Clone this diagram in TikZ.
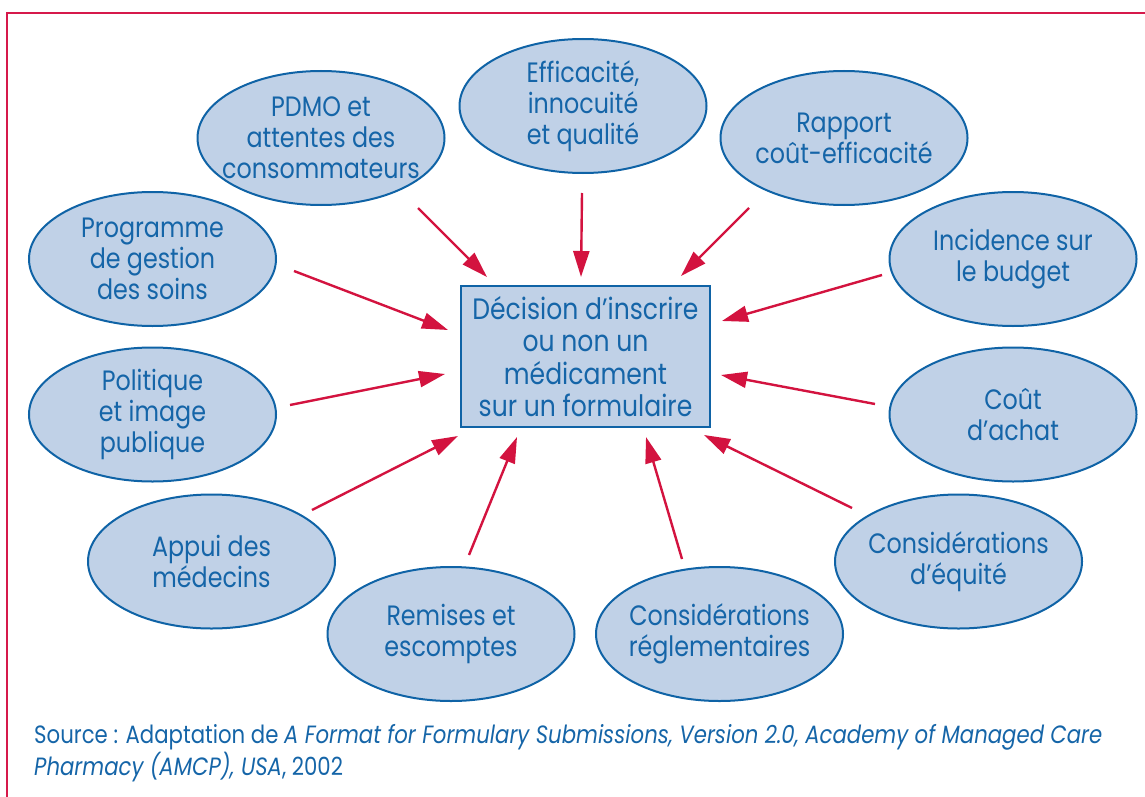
\documentclass[tikz,border=0pt]{standalone}
\usepackage{fontspec}
\setmainfont[FakeStretch=0.85]{Poppins}
\usetikzlibrary{shapes.geometric,arrows.meta,calc}
\definecolor{txtblue}{HTML}{1565A8}
\definecolor{fillblue}{HTML}{C0D1E7}
\definecolor{lineblue}{HTML}{0F63A6}
\definecolor{arrowred}{HTML}{D3133F}
\definecolor{framered}{HTML}{D6194B}

\begin{document}
\begin{tikzpicture}[x=1pt,y=-1pt,
  factor/.style={ellipse, draw=lineblue, fill=fillblue, line width=2pt,
    minimum width=247pt, minimum height=134pt, inner xsep=-40pt, inner ysep=-25pt,
    align=center, text=txtblue, font=\fontsize{28}{31}\selectfont},
  decision/.style={rectangle, draw=lineblue, fill=fillblue, line width=2pt,
    minimum width=249pt, minimum height=141pt, inner sep=0pt,
    align=center, text=txtblue, font=\fontsize{29.5}{32.5}\selectfont},
  influence/.style={draw=arrowred, line width=2.4pt, -{Triangle[length=26pt,width=16pt]}}
]
\useasboundingbox (0,0) rectangle (1145,797);

% frame
\draw[framered, line width=2pt] (7,797) -- (7,13) -- (1145,13);

% central decision
\node[decision] (box) at (585.5,356.5) {Décision d’inscrire\\ou non un\\médicament\\sur un formulaire};

% factors
\node[factor] (pdmo) at (321,138) {PDMO et\\attentes des\\consommateurs};
\node[factor] (eff)  at (583,106) {Efficacité,\\innocuité\\et qualité};
\node[factor] (rap)  at (844,138) {Rapport\\coût-efficacité};
\node[factor] (prog) at (152.5,259) {Programme\\de gestion\\des soins};
\node[factor] (inc)  at (1013,259) {Incidence sur\\le budget};
\node[factor] (pol)  at (152.5,414.5) {Politique\\et image\\publique};
\node[factor] (cout) at (1013,414.5) {Coût\\d’achat};
\node[factor] (app)  at (211.5,561.5) {Appui des\\médecins};
\node[factor] (rem)  at (451,634) {Remises et\\escomptes};
\node[factor] (reg)  at (719.5,634) {Considérations\\réglementaires};
\node[factor] (equ)  at (958.5,561.5) {Considérations\\d’équité};

% arrow ends
\coordinate (s1) at ($(pdmo)+(97,70)$);     \coordinate (t1) at ($(box.north west)+(27,-8)$);
\coordinate (s2) at ($(eff)+(-1,87)$);      \coordinate (t2) at ($(box.north west)+(121,-8)$);
\coordinate (s3) at ($(rap)+(-95,70)$);     \coordinate (t3) at ($(box.north east)+(-30,-9)$);
\coordinate (s4) at ($(prog)+(141.5,12)$);  \coordinate (t4) at ($(box.west)+(-12,-26.5)$);
\coordinate (s5) at ($(inc)+(-131,16)$);    \coordinate (t5) at ($(box.east)+(11,-35.5)$);
\coordinate (s6) at ($(pol)+(137.5,-9.5)$); \coordinate (t6) at ($(box.west)+(-15,17.5)$);
\coordinate (s7) at ($(cout)+(-138,-10.5)$);\coordinate (t7) at ($(box.east)+(10,18.5)$);
\coordinate (s8) at ($(app)+(100.5,-51.5)$);\coordinate (t8) at ($(box.south west)+(-2,8)$);
\coordinate (s9) at ($(rem)+(18,-79)$);     \coordinate (t9) at ($(box.south west)+(57,9)$);
\coordinate (s10) at ($(reg)+(-37.5,-75)$); \coordinate (t10) at ($(box.south east)+(-65,9)$);
\coordinate (s11) at ($(equ)+(-106.5,-53.5)$); \coordinate (t11) at ($(box.south east)+(-7,7)$);

\foreach \i in {1,...,11} \draw[influence] (s\i) -- (t\i);

% source line (base anchor sits on the last line)
\node[anchor=base west, align=left, text=txtblue, inner sep=0pt,
  font=\fontsize{25}{28}\selectfont] (source) at (34,775)
  {Source : Adaptation de \textit{A Format for Formulary Submissions, Version 2.0, Academy of Managed Care}\\
   \textit{Pharmacy (AMCP), USA}, 2002};
\end{tikzpicture}
\end{document}
